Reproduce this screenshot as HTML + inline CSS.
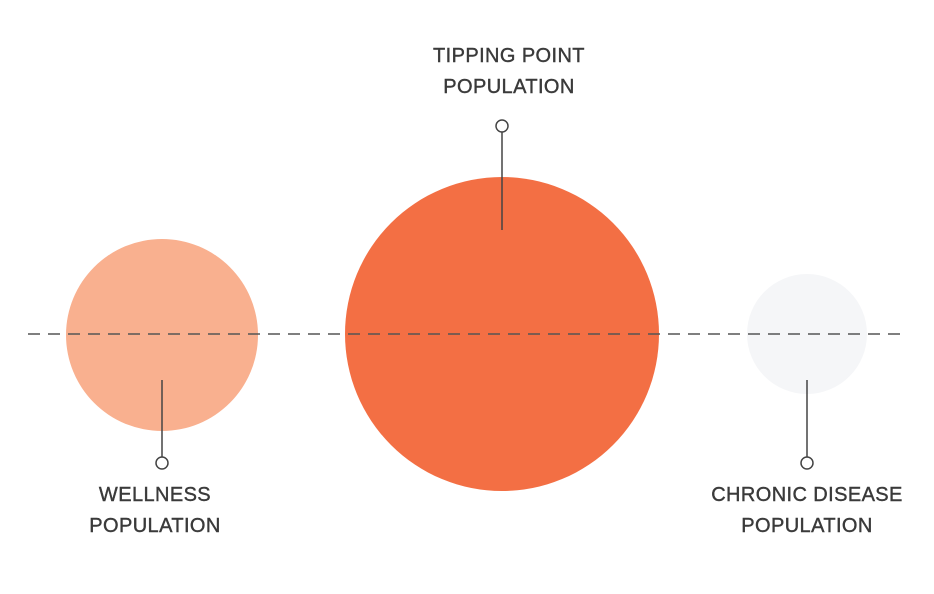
<!DOCTYPE html>
<html><head><style>body{margin:0;background:#fff}</style></head><body>
<svg width="934" height="589" xmlns="http://www.w3.org/2000/svg">
<rect width="934" height="589" fill="#fff"/>
<circle cx="162" cy="335" r="96" fill="#f9b08f"/>
<circle cx="502" cy="334" r="157" fill="#f36f44"/>
<circle cx="807" cy="334" r="60" fill="#f5f6f8"/>
<line x1="28" y1="334" x2="902" y2="334" stroke="#555" stroke-width="1.5" stroke-dasharray="12,8"/>
<g stroke="#444" stroke-width="1.5" fill="#fff">
<line x1="162" y1="380" x2="162" y2="457"/><circle cx="162" cy="463" r="6"/>
<line x1="807" y1="380" x2="807" y2="457"/><circle cx="807" cy="463" r="6"/>
<line x1="502" y1="132" x2="502" y2="230"/><circle cx="502" cy="126" r="6"/>
</g>
<g font-family="Liberation Sans, sans-serif" font-size="20" fill="#3a3a3a" stroke="#3a3a3a" stroke-width="0.4" text-anchor="middle" letter-spacing="0.4">
<text x="509" y="62">TIPPING POINT</text><text x="509" y="93">POPULATION</text>
<text x="155" y="501">WELLNESS</text><text x="155" y="532">POPULATION</text>
<text x="807" y="501">CHRONIC DISEASE</text><text x="807" y="532">POPULATION</text>
</g>
</svg>
</body></html>
